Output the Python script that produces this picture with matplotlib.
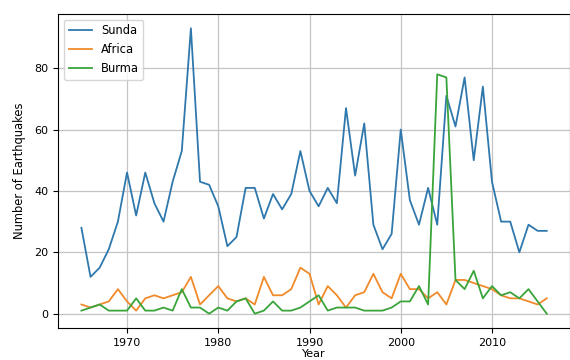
import numpy as np
import matplotlib
matplotlib.use('Agg')
import matplotlib.pyplot as plt

years = list(range(1965, 2017))

sunda = [28, 12, 15, 21, 30, 46, 32, 46, 36, 30,
         43, 53, 93, 43, 42, 35, 22, 25, 41, 41,
         31, 39, 34, 39, 53, 40, 35, 41, 36, 67,
         45, 62, 29, 21, 26, 60, 37, 29, 41, 29,
         71, 61, 77, 50, 74, 43, 30, 30, 20, 29,
         27, 27]

africa = [3, 2, 3, 4, 8, 4, 1, 5, 6, 5,
          6, 7, 12, 3, 6, 9, 5, 4, 5, 3,
          12, 6, 6, 8, 15, 13, 3, 9, 6, 2,
          6, 7, 13, 7, 5, 13, 8, 8, 5, 7,
          3, 11, 11, 10, 9, 8, 6, 5, 5, 4,
          3, 5]

burma = [1, 2, 3, 1, 1, 1, 5, 1, 1, 2,
         1, 8, 2, 2, 0, 2, 1, 4, 5, 0,
         1, 4, 1, 1, 2, 4, 6, 1, 2, 2,
         2, 1, 1, 1, 2, 4, 4, 9, 3, 78,
         77, 11, 8, 14, 5, 9, 6, 7, 5, 8,
         4, 0]

fig = plt.figure(figsize=(5.7, 3.6), dpi=100)
ax = fig.add_axes([0.102, 0.089, 0.898, 0.872])

ax.plot(years, sunda, label='Sunda', color='#2f78ad', lw=1.3)
ax.plot(years, africa, label='Africa', color='#f08a2a', lw=1.3)
ax.plot(years, burma, label='Burma', color='#3aa43a', lw=1.3)

ax.grid(True, color='#c4c4c4', lw=0.9)
ax.set_xticks([1970, 1980, 1990, 2000, 2010])
ax.set_yticks([0, 20, 40, 60, 80])
ax.tick_params(labelsize=8)
ax.set_xlabel('Year', fontsize=8, labelpad=1)
ax.set_ylabel('Number of Earthquakes', fontsize=8.3, labelpad=6)
ax.legend(loc='upper left', fontsize=8.3)

fig.savefig('out.png', dpi=100)
